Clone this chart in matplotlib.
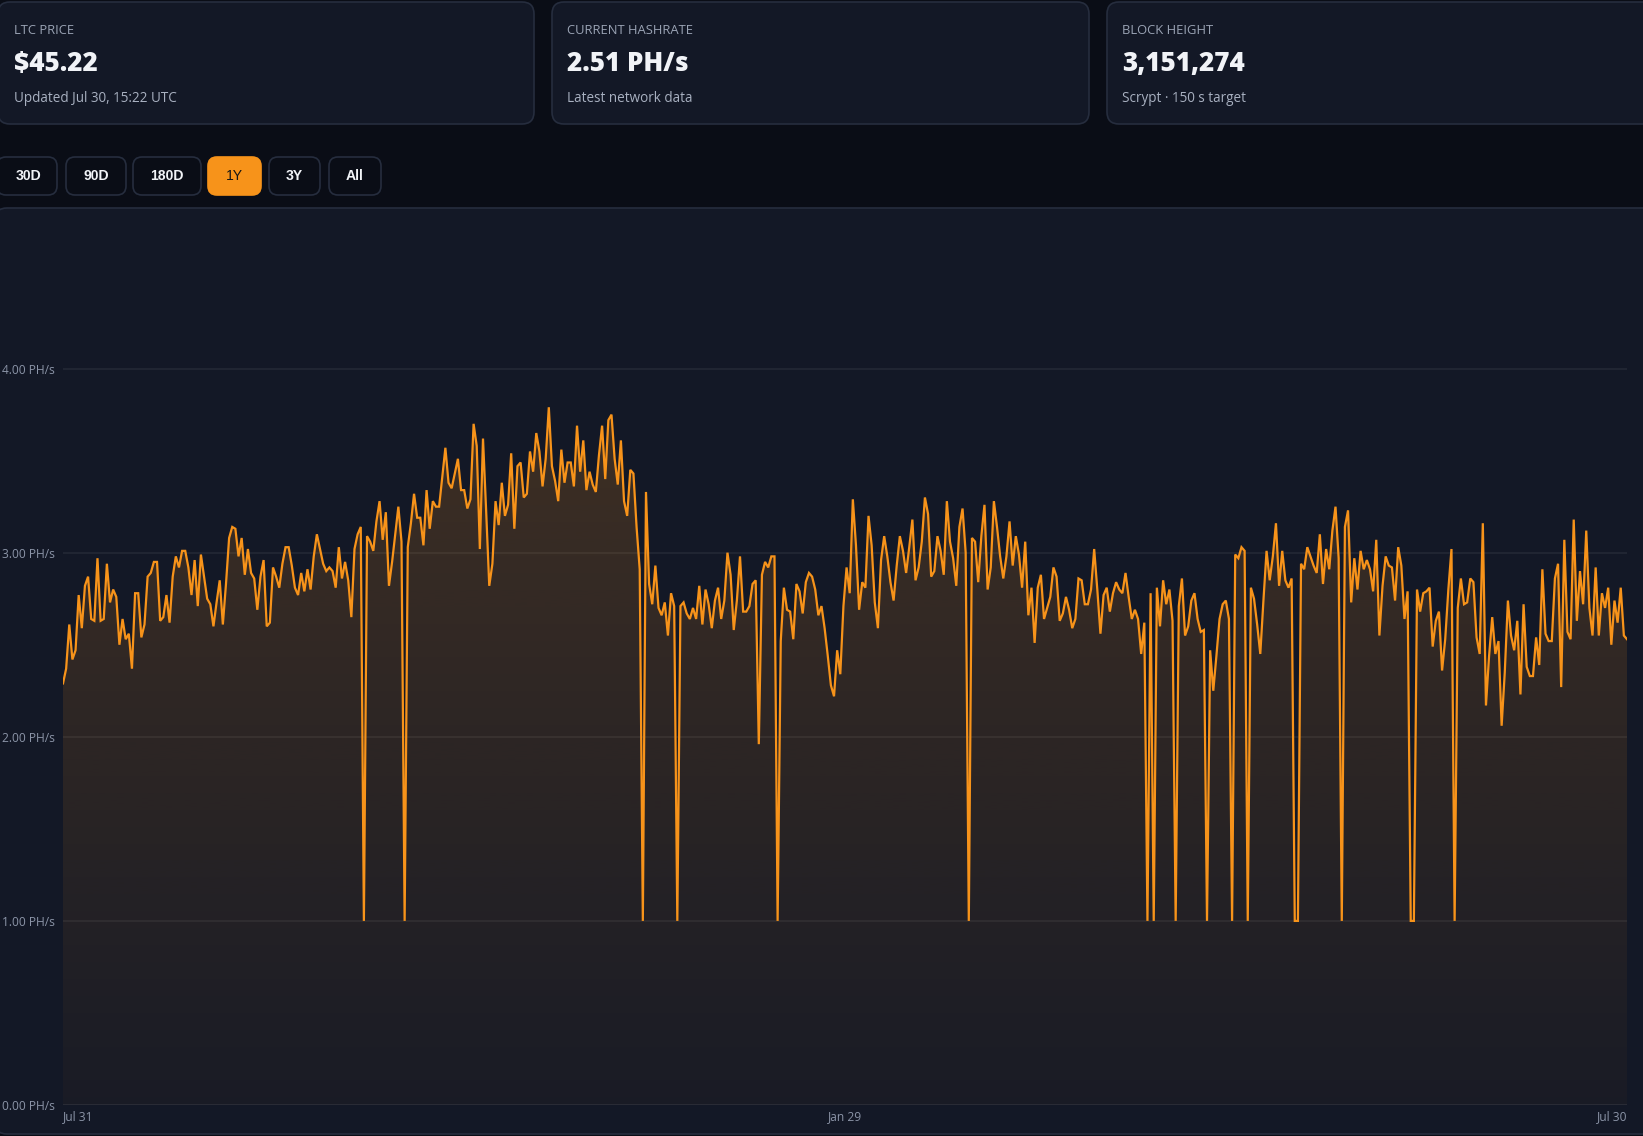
import numpy as np
import matplotlib
matplotlib.use("Agg")
import matplotlib.pyplot as plt
from matplotlib.patches import FancyBboxPatch
from matplotlib.colors import to_rgb

# ── data ──
card_titles = ["LTC PRICE", "CURRENT HASHRATE", "BLOCK HEIGHT"]
card_values = ["$45.22", "2.51 PH/s", "3,151,274"]
card_notes = ["Updated Jul 30, 15:22 UTC", "Latest network data", "Scrypt \u00b7 150 s target"]
ranges = ["30D", "90D", "180D", "1Y", "3Y", "All"]
active_range = "1Y"
x_labels = ["Jul 31", "Jan 29", "Jul 30"]
y_ticks = [0, 1, 2, 3, 4]

# network hashrate, PH/s (1Y view)
hashrate = [
    2.29, 2.37, 2.61, 2.42, 2.47, 2.77, 2.59, 2.82, 2.87, 2.64, 2.63, 2.97, 2.63, 2.64, 2.94, 2.73,
    2.80, 2.76, 2.50, 2.64, 2.53, 2.56, 2.37, 2.78, 2.78, 2.54, 2.61, 2.87, 2.89, 2.95, 2.95, 2.63,
    2.65, 2.77, 2.62, 2.87, 2.98, 2.92, 3.01, 3.01, 2.92, 2.77, 2.96, 2.71, 2.99, 2.87, 2.75, 2.72,
    2.60, 2.73, 2.85, 2.61, 2.83, 3.08, 3.14, 3.13, 2.98, 3.08, 2.88, 3.02, 2.89,
    2.86, 2.69, 2.87, 2.96, 2.60, 2.62, 2.92, 2.87, 2.81, 2.94, 3.03, 3.03, 2.93, 2.81, 2.77, 2.89,
    2.79, 2.91, 2.80, 2.98, 3.10, 3.02, 2.94, 2.90, 2.92, 2.90, 2.81, 3.03, 2.86, 2.95, 2.85, 2.65,
    3.02, 3.10, 3.14, 1.00, 3.09, 3.06, 3.01, 3.17, 3.28, 3.07, 3.22, 2.82, 2.95, 3.10, 3.25, 3.06,
    1.00, 3.03, 3.16, 3.32, 3.19, 3.19, 3.04, 3.34, 3.13, 3.28, 3.25, 3.25, 3.41, 3.57,
    3.38, 3.35, 3.43, 3.51, 3.34, 3.34, 3.24, 3.29, 3.70, 3.58, 3.02, 3.62, 3.23, 2.82, 2.94, 3.28,
    3.15, 3.38, 3.20, 3.26, 3.54, 3.13, 3.47, 3.49, 3.30, 3.32, 3.55, 3.44, 3.65, 3.55, 3.36, 3.51,
    3.79, 3.47, 3.39, 3.28, 3.56, 3.38, 3.49, 3.49, 3.36, 3.69, 3.44, 3.61, 3.34, 3.44, 3.37, 3.33,
    3.53, 3.69, 3.40, 3.72, 3.75, 3.51, 3.37, 3.61, 3.28, 3.20, 3.45, 3.43, 3.14, 2.91,
    1.00, 3.33, 2.83, 2.72, 2.93, 2.70, 2.66, 2.73, 2.55, 2.78, 2.71, 1.00, 2.71, 2.73, 2.67, 2.64,
    2.70, 2.64, 2.82, 2.61, 2.80, 2.72, 2.59, 2.74, 2.81, 2.64, 2.74, 3.00, 2.88, 2.58, 2.74, 2.98,
    2.68, 2.68, 2.71, 2.83, 2.85, 1.96, 2.88, 2.95, 2.92, 2.98, 2.98, 1.00, 2.52, 2.81, 2.69, 2.68,
    2.53, 2.83, 2.79, 2.67, 2.84, 2.89, 2.87, 2.80, 2.66, 2.71, 2.59, 2.44, 2.28, 2.22, 2.47,
    2.34, 2.71, 2.92, 2.78, 3.29, 3.04, 2.69, 2.84, 2.81, 3.20, 3.04, 2.73, 2.59, 2.96, 3.09, 2.98,
    2.84, 2.74, 2.93, 3.09, 3.01, 2.89, 3.03, 3.18, 2.85, 2.92, 3.06, 3.30, 3.21, 2.87, 2.90, 3.09,
    3.01, 2.88, 3.28, 3.06, 2.97, 2.82, 3.14, 3.24, 3.00, 1.00, 3.08, 3.06, 2.84, 3.09, 3.26, 2.80,
    2.92, 3.28, 3.14, 2.98, 2.86, 2.98, 3.17, 2.93, 3.09, 2.99, 2.81, 3.06, 2.66, 2.81,
    2.51, 2.81, 2.88, 2.64, 2.70, 2.76, 2.92, 2.87, 2.63, 2.67, 2.76, 2.69, 2.59, 2.64, 2.86, 2.85,
    2.72, 2.72, 2.80, 3.02, 2.80, 2.56, 2.77, 2.81, 2.68, 2.78, 2.84, 2.80, 2.78, 2.89, 2.76, 2.64,
    2.69, 2.64, 2.45, 2.62, 1.00, 2.78, 1.00, 2.81, 2.60, 2.85, 2.72, 2.80, 2.63, 1.00, 2.71, 2.86,
    2.55, 2.60, 2.74, 2.78, 2.64, 2.57, 2.58, 1.00, 2.47, 2.25, 2.44, 2.64, 2.72, 2.74,
    2.64, 1.00, 2.99, 2.97, 3.03, 3.01, 1.00, 2.81, 2.75, 2.61, 2.45, 2.74, 3.01, 2.85, 2.98, 3.16,
    2.82, 3.01, 2.85, 2.81, 2.86, 1.00, 1.00, 2.94, 2.91, 3.03, 2.98, 2.93, 2.89, 3.10, 2.83, 3.02,
    2.91, 3.12, 3.25, 2.97, 1.00, 3.14, 3.23, 2.73, 2.97, 2.80, 3.01, 2.91, 2.96, 2.91, 2.79, 3.07,
    2.55, 2.82, 2.98, 2.93, 2.92, 2.74, 3.03, 2.93, 2.64, 2.79, 1.00, 1.00, 2.80, 2.68,
    2.78, 2.79, 2.81, 2.49, 2.63, 2.68, 2.36, 2.53, 2.80, 3.02, 1.00, 2.70, 2.86, 2.72, 2.73, 2.86,
    2.84, 2.54, 2.45, 3.16, 2.17, 2.44, 2.65, 2.45, 2.52, 2.06, 2.35, 2.74, 2.55, 2.47, 2.63, 2.23,
    2.72, 2.38, 2.33, 2.33, 2.54, 2.39, 2.91, 2.56, 2.52, 2.52, 2.86, 2.94, 2.27, 3.07, 2.57, 2.53,
    3.18, 2.63, 2.90, 2.72, 3.12, 2.70, 2.55, 2.92, 2.55, 2.78, 2.70, 2.81, 2.50, 2.74, 2.62, 2.81,
    2.55, 2.53,
]

# ── style ──
PAGE = "#0a0d16"
PANEL = "#131826"
BORDER = "#262d3e"
ORANGE = "#f7931a"
TXT = "#f1f3f7"
MUTED = "#9aa3b4"
TICK = "#8b94a7"
UI_FONT = ["Open Sans", "DejaVu Sans"]
BTN_FONT = ["Liberation Sans", "DejaVu Sans"]

W, H = 1643, 1136
fig = plt.figure(figsize=(W / 100, H / 100), dpi=100, facecolor=PAGE)
bg = fig.add_axes([0, 0, 1, 1])
bg.set_xlim(0, W)
bg.set_ylim(H, 0)
bg.axis("off")


def box(x0, y0, x1, y1, fc, ec, r):
    bg.add_patch(FancyBboxPatch((x0 + r, y0 + r), x1 - x0 - 2 * r, y1 - y0 - 2 * r,
                                boxstyle=f"round,pad={r}", fc=fc, ec=ec, lw=1.2))


def px(n):  # pixel font size -> points
    return n * 0.72


# ── stat cards ──
card_x = [(-2, 534), (552, 1089), (1107, 1660)]
for (x0, x1), t, v, n in zip(card_x, card_titles, card_values, card_notes):
    box(x0, 2, x1, 124, PANEL, BORDER, 12)
    tx = max(x0, 0) + 14 if x0 < 0 else x0 + 15
    bg.text(tx, 30, t, color=MUTED, fontsize=px(13), family=UI_FONT, va="center")
    bg.text(tx, 64, v, color=TXT, fontsize=px(26), family=UI_FONT, fontweight="heavy", va="center")
    bg.text(tx, 98, n, color="#a8b0c0", fontsize=px(13.5), family=UI_FONT, va="center")

# ── range buttons ──
btn_x = [(-3, 57), (66, 126), (133, 201), (208, 261), (269, 320), (329, 381)]
for (x0, x1), lab in zip(btn_x, ranges):
    on = lab == active_range
    box(x0, 157, x1, 195, ORANGE if on else PAGE, ORANGE if on else BORDER, 9)
    bg.text((x0 + x1) / 2 + (2 if x0 < 0 else 0), 176.5, lab, color="#141414" if on else TXT,
            fontsize=px(14), family=BTN_FONT, fontweight="bold" if not on else "normal",
            ha="center", va="center")

# ── chart panel ──
box(-5, 208, 1660, 1134, PANEL, BORDER, 12)

YMAX = 4.78
left, right, bottom, top = 63, 1627, 1105, 225
ax = fig.add_axes([left / W, (H - bottom) / H, (right - left) / W, (bottom - top) / H])
ax.set_facecolor("none")
xs = np.arange(len(hashrate))
ax.set_xlim(0, len(hashrate) - 1)
ax.set_ylim(0, YMAX)

# gradient area under the line
fill = ax.fill_between(xs, hashrate, 0, color="none", lw=0)
rgba = np.zeros((256, 1, 4))
rgba[..., :3] = to_rgb(ORANGE)
rgba[..., 3] = np.linspace(0.03, 0.03 + 0.0425 * YMAX, 256)[:, None]
im = ax.imshow(rgba, extent=[0, len(hashrate) - 1, 0, YMAX], origin="lower",
               aspect="auto", zorder=1, interpolation="bilinear")
im.set_clip_path(fill.get_paths()[0], transform=ax.transData)

ax.plot(xs, hashrate, color=ORANGE, lw=1.6, zorder=3, solid_joinstyle="miter")

for v in y_ticks:
    ax.axhline(v, color=(1, 1, 1, 0.07 if v else 0.09), lw=1.2, zorder=0.5)

ax.set_yticks(y_ticks)
ax.set_yticklabels([f"{v:.2f} PH/s" for v in y_ticks])
ax.set_xticks([0, (len(hashrate) - 1) / 2, len(hashrate) - 1])
ax.set_xticklabels(x_labels)
for lab, ha in zip(ax.get_xticklabels(), ["left", "center", "right"]):
    lab.set_ha(ha)
ax.tick_params(length=0, colors=TICK, labelsize=px(12))
ax.tick_params(axis="y", pad=px(8))
ax.tick_params(axis="x", pad=px(5))
for lab in ax.get_xticklabels() + ax.get_yticklabels():
    lab.set_family(UI_FONT)
for s in ax.spines.values():
    s.set_visible(False)

fig.savefig("out.png", dpi=100, facecolor=PAGE)
